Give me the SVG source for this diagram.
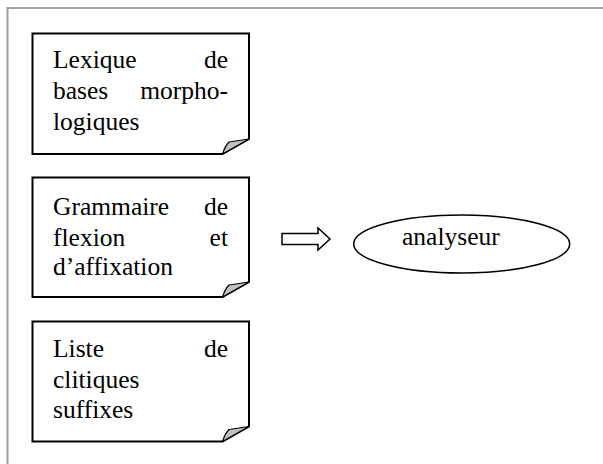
<svg xmlns="http://www.w3.org/2000/svg" width="603" height="464" viewBox="0 0 603 464">
<style>
.frame{fill:none;stroke:#a0a0a0;stroke-width:2}
.doc{fill:#fff;stroke:#000;stroke-width:2;stroke-linejoin:miter}
.fold{fill:#c0c0c0;stroke:#000;stroke-width:1.2;stroke-linejoin:round}
.t{font-family:"Times New Roman",Times,"Liberation Serif",Tinos,"DejaVu Serif",serif;font-size:25.5px;fill:#000}
.r{text-anchor:end}
</style>
<rect width="603" height="464" fill="#fff"/>
<path class="frame" d="M7.5,464 V8 H603"/>
<g id="lexique">
<path class="doc" d="M32.5,33.5 H249 V139 L222.5,154 H32.5 Z"/>
<path class="fold" d="M222.5,154 Q225,146 229,142 Q239,140.5 249,139 Z"/>
<g class="t">
<text x="53" y="68">Lexique</text><text class="r" x="228" y="68">de</text>
<text x="53" y="99">bases</text><text class="r" x="228" y="99">morpho-</text>
<text x="53" y="130">logiques</text>
</g>
</g>
<g id="grammaire">
<path class="doc" d="M32.5,177.5 H249 V282 L222.5,297 H32.5 Z"/>
<path class="fold" d="M222.5,297 Q225,289 229,285 Q239,283.5 249,282 Z"/>
<g class="t">
<text x="53" y="215">Grammaire</text><text class="r" x="228" y="215">de</text>
<text x="53" y="245.5">flexion</text><text class="r" x="228" y="245.5">et</text>
<text x="53" y="275">d’affixation</text>
</g>
</g>
<g id="liste">
<path class="doc" d="M32.5,321.5 H249 V426.5 L222.5,441.5 H32.5 Z"/>
<path class="fold" d="M222.5,441.5 Q225,433.5 229,429.5 Q239,428 249,426.5 Z"/>
<g class="t">
<text x="53" y="357">Liste</text><text class="r" x="228" y="357">de</text>
<text x="53" y="387.5">clitiques</text>
<text x="53" y="418">suffixes</text>
</g>
</g>
<g id="connectors">
<path d="M282,233.5 H318 V228 L330,239 L318,250 V244.5 H282 Z" fill="#fff" stroke="#000" stroke-width="1.5" stroke-linejoin="miter"/>
</g>
<g id="analyseur">
<ellipse cx="461.7" cy="244" rx="108" ry="29" fill="#fff" stroke="#000" stroke-width="1.5"/>
<text class="t" x="402" y="245">analyseur</text>
</g>
</svg>
